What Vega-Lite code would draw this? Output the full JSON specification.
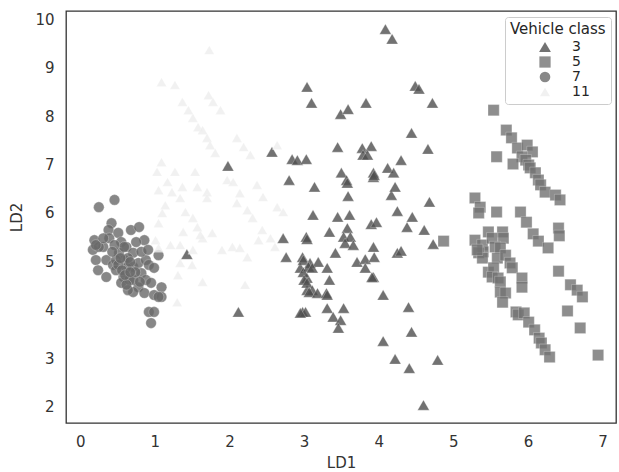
{
  "$schema": "https://vega.github.io/schema/vega-lite/v6.json",
  "width": 550,
  "height": 412,
  "autosize": {"type": "none"},
  "padding": {"left": 66, "top": 11, "right": 3, "bottom": 49},
  "background": "white",
  "config": {
    "font": "DejaVu Sans",
    "view": {"stroke": "#333333", "strokeWidth": 1.3},
    "axis": {"domain": false, "grid": false, "ticks": false, "labelFontSize": 15, "titleFontSize": 15, "labelColor": "#333333", "titleColor": "#333333", "titleFontWeight": "normal"}
  },
  "datasets": {
    "pts": [
      {"LD1": 1.43, "LD2": 5.15, "cls": "3"},
      {"LD1": 1.98, "LD2": 6.97, "cls": "3"},
      {"LD1": 2.12, "LD2": 3.96, "cls": "3"},
      {"LD1": 2.57, "LD2": 7.26, "cls": "3"},
      {"LD1": 2.80, "LD2": 6.68, "cls": "3"},
      {"LD1": 2.72, "LD2": 5.48, "cls": "3"},
      {"LD1": 2.76, "LD2": 5.09, "cls": "3"},
      {"LD1": 2.95, "LD2": 4.87, "cls": "3"},
      {"LD1": 2.98, "LD2": 5.09, "cls": "3"},
      {"LD1": 3.04, "LD2": 4.66, "cls": "3"},
      {"LD1": 3.04, "LD2": 4.41, "cls": "3"},
      {"LD1": 2.98, "LD2": 3.96, "cls": "3"},
      {"LD1": 3.02, "LD2": 3.96, "cls": "3"},
      {"LD1": 2.99, "LD2": 5.03, "cls": "3"},
      {"LD1": 3.04, "LD2": 8.60, "cls": "3"},
      {"LD1": 3.10, "LD2": 8.27, "cls": "3"},
      {"LD1": 3.49, "LD2": 8.04, "cls": "3"},
      {"LD1": 3.59, "LD2": 8.14, "cls": "3"},
      {"LD1": 3.83, "LD2": 8.27, "cls": "3"},
      {"LD1": 2.84, "LD2": 7.11, "cls": "3"},
      {"LD1": 2.91, "LD2": 7.09, "cls": "3"},
      {"LD1": 3.03, "LD2": 7.11, "cls": "3"},
      {"LD1": 3.45, "LD2": 7.36, "cls": "3"},
      {"LD1": 3.78, "LD2": 7.34, "cls": "3"},
      {"LD1": 3.90, "LD2": 7.38, "cls": "3"},
      {"LD1": 3.79, "LD2": 7.20, "cls": "3"},
      {"LD1": 3.85, "LD2": 7.20, "cls": "3"},
      {"LD1": 3.93, "LD2": 6.83, "cls": "3"},
      {"LD1": 3.93, "LD2": 6.74, "cls": "3"},
      {"LD1": 3.94, "LD2": 6.78, "cls": "3"},
      {"LD1": 3.50, "LD2": 6.83, "cls": "3"},
      {"LD1": 3.57, "LD2": 6.68, "cls": "3"},
      {"LD1": 3.58, "LD2": 6.62, "cls": "3"},
      {"LD1": 3.14, "LD2": 6.54, "cls": "3"},
      {"LD1": 3.59, "LD2": 6.35, "cls": "3"},
      {"LD1": 3.12, "LD2": 5.96, "cls": "3"},
      {"LD1": 3.45, "LD2": 5.92, "cls": "3"},
      {"LD1": 3.61, "LD2": 5.96, "cls": "3"},
      {"LD1": 4.09, "LD2": 9.79, "cls": "3"},
      {"LD1": 4.18, "LD2": 9.59, "cls": "3"},
      {"LD1": 4.49, "LD2": 8.62, "cls": "3"},
      {"LD1": 4.54, "LD2": 8.56, "cls": "3"},
      {"LD1": 4.72, "LD2": 8.27, "cls": "3"},
      {"LD1": 4.44, "LD2": 7.65, "cls": "3"},
      {"LD1": 4.66, "LD2": 7.32, "cls": "3"},
      {"LD1": 4.30, "LD2": 7.09, "cls": "3"},
      {"LD1": 4.12, "LD2": 6.93, "cls": "3"},
      {"LD1": 4.20, "LD2": 6.83, "cls": "3"},
      {"LD1": 4.17, "LD2": 6.37, "cls": "3"},
      {"LD1": 4.22, "LD2": 6.54, "cls": "3"},
      {"LD1": 4.68, "LD2": 6.23, "cls": "3"},
      {"LD1": 3.34, "LD2": 5.61, "cls": "3"},
      {"LD1": 3.58, "LD2": 5.69, "cls": "3"},
      {"LD1": 3.90, "LD2": 5.77, "cls": "3"},
      {"LD1": 3.97, "LD2": 5.81, "cls": "3"},
      {"LD1": 4.25, "LD2": 6.04, "cls": "3"},
      {"LD1": 4.45, "LD2": 5.92, "cls": "3"},
      {"LD1": 4.38, "LD2": 5.71, "cls": "3"},
      {"LD1": 4.61, "LD2": 5.65, "cls": "3"},
      {"LD1": 3.03, "LD2": 5.51, "cls": "3"},
      {"LD1": 3.53, "LD2": 5.51, "cls": "3"},
      {"LD1": 3.62, "LD2": 5.51, "cls": "3"},
      {"LD1": 4.73, "LD2": 5.36, "cls": "3"},
      {"LD1": 4.25, "LD2": 5.18, "cls": "3"},
      {"LD1": 4.30, "LD2": 5.22, "cls": "3"},
      {"LD1": 3.93, "LD2": 5.30, "cls": "3"},
      {"LD1": 3.93, "LD2": 4.68, "cls": "3"},
      {"LD1": 4.06, "LD2": 4.31, "cls": "3"},
      {"LD1": 4.40, "LD2": 4.06, "cls": "3"},
      {"LD1": 4.44, "LD2": 3.55, "cls": "3"},
      {"LD1": 4.06, "LD2": 3.36, "cls": "3"},
      {"LD1": 4.22, "LD2": 2.99, "cls": "3"},
      {"LD1": 4.41, "LD2": 2.80, "cls": "3"},
      {"LD1": 4.79, "LD2": 2.97, "cls": "3"},
      {"LD1": 4.60, "LD2": 2.04, "cls": "3"},
      {"LD1": 3.55, "LD2": 5.38, "cls": "3"},
      {"LD1": 3.66, "LD2": 5.34, "cls": "3"},
      {"LD1": 3.04, "LD2": 5.46, "cls": "3"},
      {"LD1": 3.42, "LD2": 5.18, "cls": "3"},
      {"LD1": 3.08, "LD2": 4.97, "cls": "3"},
      {"LD1": 3.19, "LD2": 4.99, "cls": "3"},
      {"LD1": 2.99, "LD2": 4.78, "cls": "3"},
      {"LD1": 3.06, "LD2": 4.89, "cls": "3"},
      {"LD1": 3.11, "LD2": 4.87, "cls": "3"},
      {"LD1": 3.31, "LD2": 4.87, "cls": "3"},
      {"LD1": 3.71, "LD2": 4.99, "cls": "3"},
      {"LD1": 3.82, "LD2": 5.05, "cls": "3"},
      {"LD1": 3.94, "LD2": 5.09, "cls": "3"},
      {"LD1": 3.82, "LD2": 4.87, "cls": "3"},
      {"LD1": 3.91, "LD2": 4.68, "cls": "3"},
      {"LD1": 3.34, "LD2": 4.62, "cls": "3"},
      {"LD1": 3.00, "LD2": 4.62, "cls": "3"},
      {"LD1": 3.04, "LD2": 4.56, "cls": "3"},
      {"LD1": 3.11, "LD2": 4.41, "cls": "3"},
      {"LD1": 3.07, "LD2": 4.37, "cls": "3"},
      {"LD1": 3.18, "LD2": 4.35, "cls": "3"},
      {"LD1": 3.30, "LD2": 4.35, "cls": "3"},
      {"LD1": 3.31, "LD2": 4.31, "cls": "3"},
      {"LD1": 2.95, "LD2": 3.94, "cls": "3"},
      {"LD1": 3.31, "LD2": 4.04, "cls": "3"},
      {"LD1": 3.53, "LD2": 4.04, "cls": "3"},
      {"LD1": 3.39, "LD2": 3.86, "cls": "3"},
      {"LD1": 3.49, "LD2": 3.79, "cls": "3"},
      {"LD1": 3.46, "LD2": 3.63, "cls": "3"},
      {"LD1": 5.54, "LD2": 8.12, "cls": "5"},
      {"LD1": 5.71, "LD2": 7.71, "cls": "5"},
      {"LD1": 5.78, "LD2": 7.55, "cls": "5"},
      {"LD1": 5.86, "LD2": 7.34, "cls": "5"},
      {"LD1": 5.99, "LD2": 7.40, "cls": "5"},
      {"LD1": 6.06, "LD2": 7.26, "cls": "5"},
      {"LD1": 5.92, "LD2": 7.16, "cls": "5"},
      {"LD1": 5.80, "LD2": 7.01, "cls": "5"},
      {"LD1": 5.58, "LD2": 7.16, "cls": "5"},
      {"LD1": 5.97, "LD2": 7.09, "cls": "5"},
      {"LD1": 6.01, "LD2": 6.99, "cls": "5"},
      {"LD1": 6.03, "LD2": 6.93, "cls": "5"},
      {"LD1": 6.10, "LD2": 6.83, "cls": "5"},
      {"LD1": 6.14, "LD2": 6.68, "cls": "5"},
      {"LD1": 6.17, "LD2": 6.58, "cls": "5"},
      {"LD1": 6.23, "LD2": 6.43, "cls": "5"},
      {"LD1": 6.37, "LD2": 6.37, "cls": "5"},
      {"LD1": 6.43, "LD2": 6.27, "cls": "5"},
      {"LD1": 5.29, "LD2": 6.31, "cls": "5"},
      {"LD1": 5.36, "LD2": 6.12, "cls": "5"},
      {"LD1": 5.34, "LD2": 6.00, "cls": "5"},
      {"LD1": 5.58, "LD2": 6.02, "cls": "5"},
      {"LD1": 5.90, "LD2": 6.02, "cls": "5"},
      {"LD1": 5.98, "LD2": 5.81, "cls": "5"},
      {"LD1": 6.07, "LD2": 5.57, "cls": "5"},
      {"LD1": 6.14, "LD2": 5.42, "cls": "5"},
      {"LD1": 6.27, "LD2": 5.28, "cls": "5"},
      {"LD1": 6.41, "LD2": 5.69, "cls": "5"},
      {"LD1": 6.42, "LD2": 5.53, "cls": "5"},
      {"LD1": 5.47, "LD2": 5.61, "cls": "5"},
      {"LD1": 5.66, "LD2": 5.61, "cls": "5"},
      {"LD1": 5.67, "LD2": 5.48, "cls": "5"},
      {"LD1": 5.29, "LD2": 5.44, "cls": "5"},
      {"LD1": 5.39, "LD2": 5.34, "cls": "5"},
      {"LD1": 5.40, "LD2": 5.20, "cls": "5"},
      {"LD1": 5.34, "LD2": 5.18, "cls": "5"},
      {"LD1": 5.39, "LD2": 5.07, "cls": "5"},
      {"LD1": 5.52, "LD2": 5.48, "cls": "5"},
      {"LD1": 5.56, "LD2": 5.30, "cls": "5"},
      {"LD1": 5.63, "LD2": 5.28, "cls": "5"},
      {"LD1": 5.59, "LD2": 5.07, "cls": "5"},
      {"LD1": 5.70, "LD2": 5.13, "cls": "5"},
      {"LD1": 5.76, "LD2": 4.97, "cls": "5"},
      {"LD1": 5.79, "LD2": 4.87, "cls": "5"},
      {"LD1": 5.47, "LD2": 4.78, "cls": "5"},
      {"LD1": 5.54, "LD2": 4.87, "cls": "5"},
      {"LD1": 5.52, "LD2": 4.68, "cls": "5"},
      {"LD1": 5.60, "LD2": 4.66, "cls": "5"},
      {"LD1": 5.63, "LD2": 4.58, "cls": "5"},
      {"LD1": 5.92, "LD2": 4.66, "cls": "5"},
      {"LD1": 5.92, "LD2": 4.47, "cls": "5"},
      {"LD1": 6.41, "LD2": 4.80, "cls": "5"},
      {"LD1": 6.57, "LD2": 4.52, "cls": "5"},
      {"LD1": 6.66, "LD2": 4.41, "cls": "5"},
      {"LD1": 6.73, "LD2": 4.27, "cls": "5"},
      {"LD1": 5.63, "LD2": 4.37, "cls": "5"},
      {"LD1": 5.70, "LD2": 4.35, "cls": "5"},
      {"LD1": 5.66, "LD2": 4.16, "cls": "5"},
      {"LD1": 6.53, "LD2": 3.98, "cls": "5"},
      {"LD1": 5.84, "LD2": 3.96, "cls": "5"},
      {"LD1": 5.87, "LD2": 3.90, "cls": "5"},
      {"LD1": 5.95, "LD2": 3.94, "cls": "5"},
      {"LD1": 6.01, "LD2": 3.75, "cls": "5"},
      {"LD1": 6.09, "LD2": 3.59, "cls": "5"},
      {"LD1": 6.15, "LD2": 3.42, "cls": "5"},
      {"LD1": 6.18, "LD2": 3.32, "cls": "5"},
      {"LD1": 6.23, "LD2": 3.18, "cls": "5"},
      {"LD1": 6.29, "LD2": 3.03, "cls": "5"},
      {"LD1": 6.70, "LD2": 3.63, "cls": "5"},
      {"LD1": 6.94, "LD2": 3.07, "cls": "5"},
      {"LD1": 4.87, "LD2": 5.42, "cls": "5"},
      {"LD1": 5.32, "LD2": 5.24, "cls": "5"},
      {"LD1": 0.25, "LD2": 6.12, "cls": "7"},
      {"LD1": 0.46, "LD2": 6.27, "cls": "7"},
      {"LD1": 0.42, "LD2": 5.79, "cls": "7"},
      {"LD1": 0.38, "LD2": 5.65, "cls": "7"},
      {"LD1": 0.51, "LD2": 5.59, "cls": "7"},
      {"LD1": 0.39, "LD2": 5.48, "cls": "7"},
      {"LD1": 0.19, "LD2": 5.44, "cls": "7"},
      {"LD1": 0.17, "LD2": 5.24, "cls": "7"},
      {"LD1": 0.31, "LD2": 5.30, "cls": "7"},
      {"LD1": 0.21, "LD2": 5.03, "cls": "7"},
      {"LD1": 0.24, "LD2": 4.82, "cls": "7"},
      {"LD1": 0.35, "LD2": 5.03, "cls": "7"},
      {"LD1": 0.44, "LD2": 4.93, "cls": "7"},
      {"LD1": 0.55, "LD2": 5.40, "cls": "7"},
      {"LD1": 0.62, "LD2": 5.30, "cls": "7"},
      {"LD1": 0.52, "LD2": 5.18, "cls": "7"},
      {"LD1": 0.59, "LD2": 5.03, "cls": "7"},
      {"LD1": 0.71, "LD2": 5.18, "cls": "7"},
      {"LD1": 0.68, "LD2": 5.65, "cls": "7"},
      {"LD1": 0.79, "LD2": 5.71, "cls": "7"},
      {"LD1": 0.86, "LD2": 5.44, "cls": "7"},
      {"LD1": 0.75, "LD2": 5.40, "cls": "7"},
      {"LD1": 0.48, "LD2": 4.82, "cls": "7"},
      {"LD1": 0.58, "LD2": 4.68, "cls": "7"},
      {"LD1": 0.55, "LD2": 4.56, "cls": "7"},
      {"LD1": 0.66, "LD2": 4.62, "cls": "7"},
      {"LD1": 0.71, "LD2": 4.89, "cls": "7"},
      {"LD1": 0.78, "LD2": 4.97, "cls": "7"},
      {"LD1": 0.82, "LD2": 4.76, "cls": "7"},
      {"LD1": 0.88, "LD2": 5.03, "cls": "7"},
      {"LD1": 0.92, "LD2": 4.93, "cls": "7"},
      {"LD1": 0.99, "LD2": 4.87, "cls": "7"},
      {"LD1": 0.88, "LD2": 4.62, "cls": "7"},
      {"LD1": 0.95, "LD2": 4.56, "cls": "7"},
      {"LD1": 0.78, "LD2": 4.47, "cls": "7"},
      {"LD1": 0.71, "LD2": 4.37, "cls": "7"},
      {"LD1": 0.86, "LD2": 4.35, "cls": "7"},
      {"LD1": 0.99, "LD2": 4.31, "cls": "7"},
      {"LD1": 1.09, "LD2": 4.47, "cls": "7"},
      {"LD1": 1.09, "LD2": 4.27, "cls": "7"},
      {"LD1": 1.05, "LD2": 4.27, "cls": "7"},
      {"LD1": 0.92, "LD2": 3.96, "cls": "7"},
      {"LD1": 0.99, "LD2": 3.96, "cls": "7"},
      {"LD1": 0.95, "LD2": 3.73, "cls": "7"},
      {"LD1": 0.64, "LD2": 4.41, "cls": "7"},
      {"LD1": 0.62, "LD2": 4.87, "cls": "7"},
      {"LD1": 0.48, "LD2": 5.03, "cls": "7"},
      {"LD1": 0.82, "LD2": 5.20, "cls": "7"},
      {"LD1": 0.91, "LD2": 5.24, "cls": "7"},
      {"LD1": 1.05, "LD2": 5.13, "cls": "7"},
      {"LD1": 0.71, "LD2": 4.62, "cls": "7"},
      {"LD1": 0.59, "LD2": 5.30, "cls": "7"},
      {"LD1": 0.46, "LD2": 5.34, "cls": "7"},
      {"LD1": 0.25, "LD2": 5.30, "cls": "7"},
      {"LD1": 0.35, "LD2": 4.68, "cls": "7"},
      {"LD1": 0.51, "LD2": 4.93, "cls": "7"},
      {"LD1": 0.64, "LD2": 5.07, "cls": "7"},
      {"LD1": 0.56, "LD2": 4.82, "cls": "7"},
      {"LD1": 0.74, "LD2": 4.78, "cls": "7"},
      {"LD1": 0.67, "LD2": 4.99, "cls": "7"},
      {"LD1": 0.80, "LD2": 4.58, "cls": "7"},
      {"LD1": 0.62, "LD2": 4.52, "cls": "7"},
      {"LD1": 0.43, "LD2": 5.20, "cls": "7"},
      {"LD1": 0.31, "LD2": 5.48, "cls": "7"},
      {"LD1": 0.21, "LD2": 5.34, "cls": "7"},
      {"LD1": 0.60, "LD2": 4.72, "cls": "7"},
      {"LD1": 0.67, "LD2": 4.78, "cls": "7"},
      {"LD1": 0.54, "LD2": 5.07, "cls": "7"},
      {"LD1": 1.73, "LD2": 9.36, "cls": "11"},
      {"LD1": 1.09, "LD2": 8.70, "cls": "11"},
      {"LD1": 1.27, "LD2": 8.64, "cls": "11"},
      {"LD1": 1.37, "LD2": 8.29, "cls": "11"},
      {"LD1": 1.72, "LD2": 8.43, "cls": "11"},
      {"LD1": 1.78, "LD2": 8.29, "cls": "11"},
      {"LD1": 1.88, "LD2": 8.12, "cls": "11"},
      {"LD1": 1.45, "LD2": 8.12, "cls": "11"},
      {"LD1": 1.51, "LD2": 7.96, "cls": "11"},
      {"LD1": 1.58, "LD2": 7.77, "cls": "11"},
      {"LD1": 1.64, "LD2": 7.71, "cls": "11"},
      {"LD1": 1.70, "LD2": 7.55, "cls": "11"},
      {"LD1": 1.74, "LD2": 7.40, "cls": "11"},
      {"LD1": 1.81, "LD2": 7.24, "cls": "11"},
      {"LD1": 2.10, "LD2": 7.55, "cls": "11"},
      {"LD1": 2.19, "LD2": 7.36, "cls": "11"},
      {"LD1": 2.28, "LD2": 7.20, "cls": "11"},
      {"LD1": 2.64, "LD2": 7.40, "cls": "11"},
      {"LD1": 1.09, "LD2": 7.05, "cls": "11"},
      {"LD1": 1.03, "LD2": 6.85, "cls": "11"},
      {"LD1": 1.27, "LD2": 6.85, "cls": "11"},
      {"LD1": 1.54, "LD2": 6.85, "cls": "11"},
      {"LD1": 1.17, "LD2": 6.64, "cls": "11"},
      {"LD1": 1.37, "LD2": 6.54, "cls": "11"},
      {"LD1": 1.05, "LD2": 6.47, "cls": "11"},
      {"LD1": 1.23, "LD2": 6.43, "cls": "11"},
      {"LD1": 1.57, "LD2": 6.54, "cls": "11"},
      {"LD1": 1.70, "LD2": 6.43, "cls": "11"},
      {"LD1": 1.97, "LD2": 6.68, "cls": "11"},
      {"LD1": 2.05, "LD2": 6.64, "cls": "11"},
      {"LD1": 1.34, "LD2": 6.31, "cls": "11"},
      {"LD1": 1.70, "LD2": 6.31, "cls": "11"},
      {"LD1": 2.14, "LD2": 6.41, "cls": "11"},
      {"LD1": 2.37, "LD2": 6.58, "cls": "11"},
      {"LD1": 2.45, "LD2": 6.33, "cls": "11"},
      {"LD1": 2.10, "LD2": 6.21, "cls": "11"},
      {"LD1": 1.14, "LD2": 6.16, "cls": "11"},
      {"LD1": 1.41, "LD2": 6.02, "cls": "11"},
      {"LD1": 1.51, "LD2": 5.90, "cls": "11"},
      {"LD1": 1.10, "LD2": 6.00, "cls": "11"},
      {"LD1": 2.24, "LD2": 6.06, "cls": "11"},
      {"LD1": 2.31, "LD2": 5.90, "cls": "11"},
      {"LD1": 2.64, "LD2": 6.12, "cls": "11"},
      {"LD1": 2.72, "LD2": 6.02, "cls": "11"},
      {"LD1": 1.05, "LD2": 5.79, "cls": "11"},
      {"LD1": 1.38, "LD2": 5.61, "cls": "11"},
      {"LD1": 1.57, "LD2": 5.71, "cls": "11"},
      {"LD1": 1.64, "LD2": 5.48, "cls": "11"},
      {"LD1": 1.77, "LD2": 5.59, "cls": "11"},
      {"LD1": 2.44, "LD2": 5.65, "cls": "11"},
      {"LD1": 2.39, "LD2": 5.44, "cls": "11"},
      {"LD1": 2.55, "LD2": 5.48, "cls": "11"},
      {"LD1": 2.61, "LD2": 5.30, "cls": "11"},
      {"LD1": 1.01, "LD2": 5.44, "cls": "11"},
      {"LD1": 1.21, "LD2": 5.34, "cls": "11"},
      {"LD1": 1.90, "LD2": 5.24, "cls": "11"},
      {"LD1": 2.04, "LD2": 5.30, "cls": "11"},
      {"LD1": 2.14, "LD2": 5.28, "cls": "11"},
      {"LD1": 2.24, "LD2": 5.09, "cls": "11"},
      {"LD1": 1.34, "LD2": 4.97, "cls": "11"},
      {"LD1": 1.50, "LD2": 4.93, "cls": "11"},
      {"LD1": 1.31, "LD2": 4.72, "cls": "11"},
      {"LD1": 1.64, "LD2": 4.58, "cls": "11"},
      {"LD1": 2.21, "LD2": 4.52, "cls": "11"},
      {"LD1": 1.30, "LD2": 4.16, "cls": "11"},
      {"LD1": 1.05, "LD2": 5.28, "cls": "11"},
      {"LD1": 1.61, "LD2": 5.55, "cls": "11"},
      {"LD1": 1.34, "LD2": 5.34, "cls": "11"},
      {"LD1": 1.51, "LD2": 5.24, "cls": "11"}
    ]
  },
  "data": {"name": "pts"},
  "mark": {"type": "point", "filled": true, "opacity": 0.8, "stroke": "#ffffff", "strokeWidth": 0.5, "strokeOpacity": 0.6},
  "encoding": {
    "x": {"field": "LD1", "type": "quantitative", "title": "LD1", "scale": {"domain": [-0.19, 7.18], "nice": false, "zero": false}, "axis": {"values": [0, 1, 2, 3, 4, 5, 6, 7], "labelPadding": 11, "titlePadding": 6}},
    "y": {"field": "LD2", "type": "quantitative", "title": "LD2", "scale": {"domain": [1.67, 10.165], "nice": false, "zero": false}, "axis": {"values": [2, 3, 4, 5, 6, 7, 8, 9, 10], "labelPadding": 12, "titlePadding": 10}},
    "color": {"field": "cls", "type": "nominal", "title": "Vehicle class", "sort": ["3", "5", "7", "11"], "scale": {"domain": ["3", "5", "7", "11"], "range": ["#4f4f4f", "#737373", "#6a6a6a", "#eeeeee"]},
      "legend": {"orient": "none", "legendX": 439, "legendY": 6, "padding": 5, "strokeColor": "#cccccc", "cornerRadius": 3, "fillColor": "#ffffff", "titleFontSize": 15, "titleFontWeight": "normal", "titleColor": "#262626", "labelFontSize": 14, "labelColor": "#262626", "symbolOffset": 28, "labelOffset": 20, "rowPadding": 1, "titlePadding": 3, "symbolSize": 85, "symbolOpacity": 0.8, "symbolStrokeWidth": 0}},
    "shape": {"field": "cls", "type": "nominal", "sort": ["3", "5", "7", "11"], "scale": {"domain": ["3", "5", "7", "11"], "range": ["triangle-up", "square", "circle", "triangle-up"]}},
    "size": {"field": "cls", "type": "nominal", "legend": null, "scale": {"domain": ["3", "5", "7", "11"], "range": [140, 100, 125, 140]}},
    "order": {"value": 0}
  }
}
